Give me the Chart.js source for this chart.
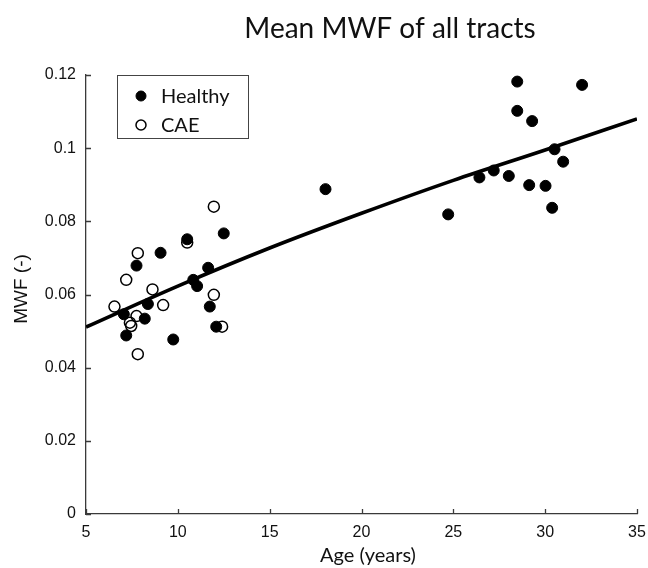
<!DOCTYPE html>
<html>
<head>
<meta charset="utf-8">
<script src="https://cdn.jsdelivr.net/npm/chart.js@4/dist/chart.umd.min.js"></script>
<style>
  html, body { margin: 0; padding: 0; background: #ffffff; }
  #wrap { width: 648px; height: 568px; }
</style>
</head>
<body>
<div id="wrap"><canvas id="c" width="648" height="568"></canvas></div>
<script>
// ---- data ----
const healthyAge = [10.51, 12.50, 9.06, 7.75, 11.65, 10.84, 11.05, 8.37, 11.74, 7.06, 8.20, 12.09, 7.19, 9.75,
                    18.04, 28.48, 32.01, 28.48, 29.29, 30.51, 30.98, 26.42, 27.20, 28.02, 29.13, 30.02, 30.38, 24.72];
const healthyMWF = [0.0751, 0.0767, 0.0714, 0.0679, 0.0673, 0.0640, 0.0623, 0.0574, 0.0567, 0.0546, 0.0534, 0.0512, 0.0488, 0.0477,
                    0.0888, 0.1182, 0.1173, 0.1102, 0.1074, 0.0997, 0.0963, 0.0920, 0.0939, 0.0924, 0.0899, 0.0897, 0.0837, 0.0819];
const caeAge = [11.96, 10.51, 7.82, 7.19, 8.62, 11.96, 6.55, 9.20, 7.75, 7.39, 7.46, 12.41, 7.82];
const caeMWF = [0.0840, 0.0742, 0.0713, 0.0640, 0.0614, 0.0599, 0.0567, 0.0571, 0.0541, 0.0523, 0.0514, 0.0512, 0.0437];
const fitAge = [5, 10, 15, 20, 25, 30, 35];
const fitMWF = [0.0511, 0.0623, 0.0727, 0.0822, 0.0912, 0.0995, 0.1080];
const xTickValues = [5, 10, 15, 20, 25, 30, 35];
const yTickValues = [0, 0.02, 0.04, 0.06, 0.08, 0.1, 0.12];
const yTickLabels = ['0', '0.02', '0.04', '0.06', '0.08', '0.1', '0.12'];
const seriesNames = ['Healthy', 'CAE'];
const chartTitle = 'Mean MWF of all tracts';
const xTitle = 'Age (years)';
const yTitle = 'MWF (-)';

const toPts = (xs, ys) => xs.map((x, i) => ({ x: x, y: ys[i] }));

const AXIS = '#3a3a3a';
const decor = {
  id: 'decor',
  afterDraw(chart) {
    const ctx = chart.ctx;
    const xs = chart.scales.x, ys = chart.scales.y;
    const area = chart.chartArea;
    ctx.save();
    // inward ticks
    ctx.strokeStyle = AXIS;
    ctx.lineWidth = 1.3;
    ctx.beginPath();
    xTickValues.forEach(v => {
      const px = Math.round(xs.getPixelForValue(v)) + 0.5;
      ctx.moveTo(px, area.bottom);
      ctx.lineTo(px, area.bottom - 5);
    });
    yTickValues.forEach(v => {
      const py = Math.round(ys.getPixelForValue(v)) + 0.5;
      ctx.moveTo(area.left, py);
      ctx.lineTo(area.left + 5, py);
    });
    ctx.stroke();

    // title
    ctx.fillStyle = '#111';
    ctx.textAlign = 'center';
    ctx.textBaseline = 'middle';
    ctx.font = '28px Lato';
    ctx.fillText(chartTitle, 390, 29);

    // x-axis title
    ctx.font = '20px Lato';
    ctx.fillText(xTitle, 368, 556);

    // y-axis title
    ctx.save();
    ctx.translate(22, 289);
    ctx.rotate(-Math.PI / 2);
    ctx.font = '19px "Liberation Sans"';
    ctx.fillText(yTitle, 0, 0);
    ctx.restore();

    // legend box
    const lx = 117, ly = 75, lw = 131, lh = 63;
    ctx.strokeStyle = '#444';
    ctx.lineWidth = 1;
    ctx.fillStyle = '#fff';
    ctx.fillRect(lx, ly, lw, lh);
    ctx.strokeRect(lx + 0.5, ly + 0.5, lw, lh);
    const ds = chart.data.datasets;
    const rows = [[ds[0], 96], [ds[1], 125]];
    rows.forEach(([d, y], i) => {
      ctx.beginPath();
      ctx.arc(141, y, d.pointRadius - 0.5, 0, Math.PI * 2);
      if (d.pointBackgroundColor !== 'rgba(0,0,0,0)') {
        ctx.fillStyle = d.pointBackgroundColor;
        ctx.fill();
      }
      ctx.lineWidth = d.pointBorderWidth;
      ctx.strokeStyle = d.pointBorderColor;
      ctx.stroke();
      ctx.fillStyle = '#111';
      ctx.textAlign = 'left';
      ctx.font = '20px Lato';
      ctx.fillText(seriesNames[i], 161, y + 1);
    });
    ctx.restore();
  }
};

new Chart(document.getElementById('c'), {
  type: 'scatter',
  data: {
    datasets: [
      {
        label: seriesNames[0],
        data: toPts(healthyAge, healthyMWF),
        pointRadius: 5.5,
        pointHoverRadius: 5.5,
        pointBackgroundColor: '#000',
        pointBorderColor: '#000',
        pointBorderWidth: 1,
        order: 1
      },
      {
        label: seriesNames[1],
        data: toPts(caeAge, caeMWF),
        pointRadius: 5.5,
        pointHoverRadius: 5.5,
        pointBackgroundColor: 'rgba(0,0,0,0)',
        pointBorderColor: '#000',
        pointBorderWidth: 1.5,
        order: 2
      },
      {
        type: 'line',
        label: 'fit',
        data: toPts(fitAge, fitMWF),
        borderColor: '#000',
        borderWidth: 3.6,
        pointRadius: 0,
        fill: false,
        cubicInterpolationMode: 'monotone',
        order: 0
      }
    ]
  },
  options: {
    responsive: false,
    animation: false,
    devicePixelRatio: 1,
    layout: { padding: { left: 0, right: 11, top: 75, bottom: 0 } },
    plugins: {
      legend: { display: false },
      title: { display: false },
      tooltip: { enabled: false }
    },
    scales: {
      x: {
        type: 'linear',
        min: 5, max: 35,
        afterFit(s) { s.height = 54; s.paddingLeft = 0; s.paddingRight = 0; },
        afterBuildTicks(s) { s.ticks = xTickValues.map(v => ({ value: v })); },
        grid: { display: true, drawOnChartArea: false, drawTicks: false },
        border: { display: true, color: AXIS, width: 1.3 },
        ticks: {
          padding: 9,
          color: '#111',
          font: { family: '"Liberation Sans"', size: 16 },
          maxRotation: 0,
          callback: (v) => String(v)
        }
      },
      y: {
        type: 'linear',
        min: 0, max: 0.12,
        afterFit(s) { s.width = 86; s.paddingTop = 0; s.paddingBottom = 0; },
        afterBuildTicks(s) { s.ticks = yTickValues.map(v => ({ value: v })); },
        grid: { display: true, drawOnChartArea: false, drawTicks: false },
        border: { display: true, color: AXIS, width: 1.3 },
        ticks: {
          padding: 10,
          color: '#111',
          font: { family: '"Liberation Sans"', size: 16 },
          callback: (v, i) => yTickLabels[i]
        }
      }
    }
  },
  plugins: [decor]
});
</script>
</body>
</html>
